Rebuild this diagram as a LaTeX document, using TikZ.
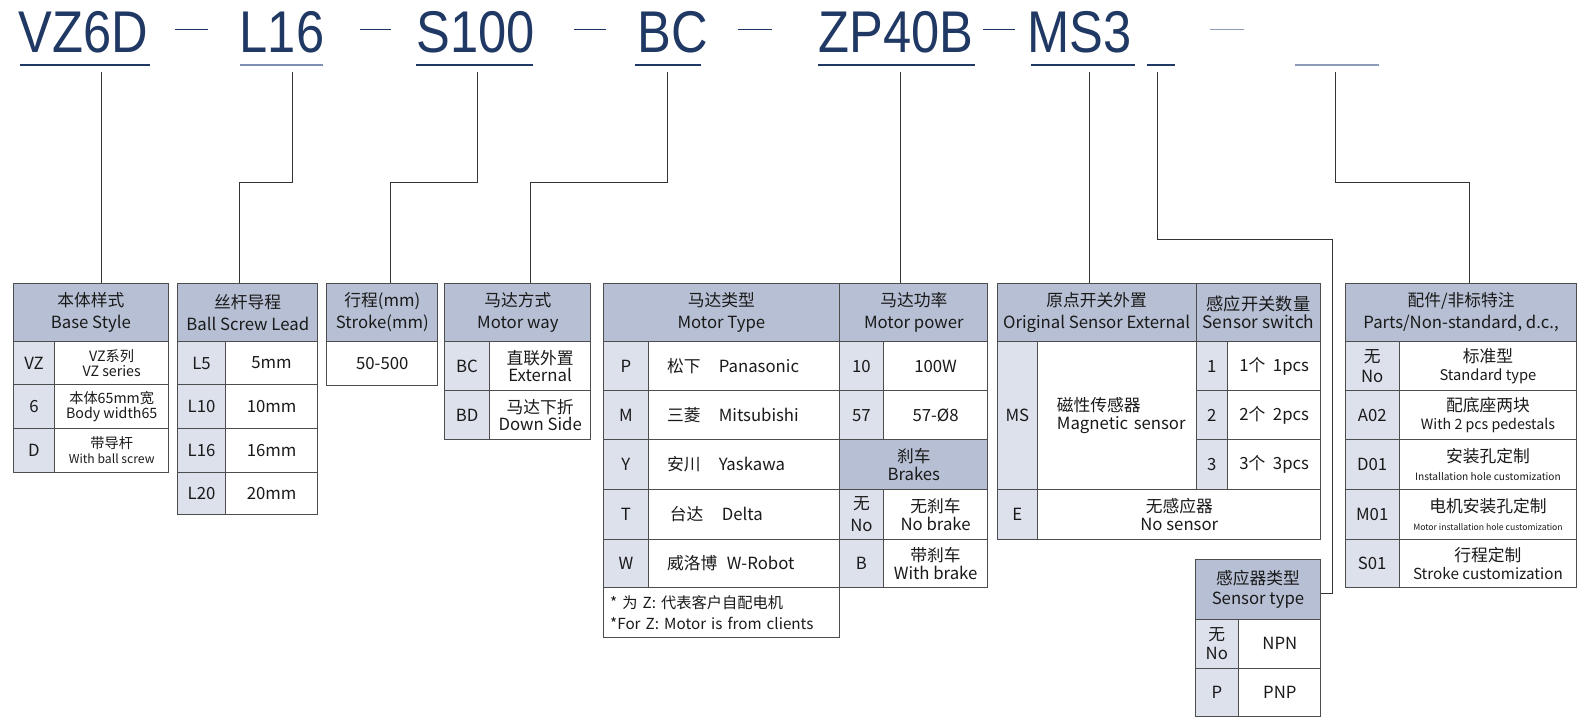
\documentclass[tikz,border=0pt]{standalone}
\usepackage{graphicx}
\usepackage{fontspec}
\setmainfont{Noto Sans CJK SC}
\newfontfamily\ttlfont{Liberation Sans}
\definecolor{navy}{HTML}{1F3864}
\definecolor{navyl}{HTML}{7D8FB3}
\definecolor{greyblue}{HTML}{8D9BB6}
\definecolor{hdfill}{HTML}{B6BFD3}
\definecolor{kyfill}{HTML}{DDE1EC}
\definecolor{cellline}{HTML}{4D4D4D}
\definecolor{txt}{HTML}{1A1A1A}
\tikzset{
 cell/.style={draw=cellline, line width=0.9pt, anchor=north west, inner sep=0pt, outer sep=0pt, align=center, text=txt, font=\fontsize{16.5}{18}\selectfont},
 hd/.style={cell, fill=hdfill, font=\fontsize{16.5}{21.5}\selectfont},
 ky/.style={cell, fill=kyfill},
 vl/.style={cell, fill=white},
 sz/.style 2 args={minimum width=#1pt, minimum height=#2pt},
 sm/.style={font=\fontsize{14}{15}\selectfont},
 ttl/.style={anchor=base west, inner sep=0pt, text=navy, font=\ttlfont\fontsize{58}{58}\selectfont},
 dsh/.style={draw=navy, line width=1.2pt},
 uln/.style={draw=navy, line width=2pt},
 con/.style={draw=black!80, line width=0.8pt},
}
\begin{document}
\begin{tikzpicture}[x=1pt,y=1pt]
 \fill[white] (0,0) rectangle (1568,-716);
 \useasboundingbox (0,0) rectangle (1568,-716);
 \node[ttl] (t1) at (18,-52) {\scalebox{0.86}[1]{VZ6D}};
 \node[ttl] (t2) at (236,-52) {\scalebox{0.86}[1]{L16}};
 \node[ttl] (t3) at (410,-52) {\scalebox{0.86}[1]{S100}};
 \node[ttl] (t4) at (628,-52) {\scalebox{0.86}[1]{BC}};
 \node[ttl] (t5) at (806,-52) {\scalebox{0.86}[1]{ZP40B}};
 \node[ttl] (t6) at (1012,-52) {\scalebox{0.86}[1]{MS3}};
 \draw[dsh] (172,-29) -- (205,-29);
 \draw[dsh] (355,-29) -- (385,-29);
 \draw[dsh] (565,-29) -- (597,-29);
 \draw[dsh] (727,-29) -- (760,-29);
 \draw[dsh] (968,-29) -- (1000,-29);
 \draw[dsh, draw=greyblue] (1192,-29) -- (1225,-29);
 \draw[uln] (20,-64) -- (148,-64);
 \draw[uln, draw=navyl] (236,-64) -- (318,-64);
 \draw[uln] (410,-64) -- (525,-64);
 \draw[uln] (625,-64) -- (690,-64);
 \draw[uln] (806,-64) -- (960,-64);
 \draw[uln, line width=2.8pt] (1015,-64) -- (1118,-64);
 \draw[uln] (1130,-64) -- (1157,-64);
 \draw[uln, draw=greyblue] (1275,-64) -- (1358,-64);

 \node[hd, sz={153}{57}] (bsH) at (13,-279) {本体样式\\Base Style};
 \node[ky, sz={41}{43}] (bsK1) at (13,-336) {VZ};
 \node[vl, sz={112}{43}, sm] (bsV1) at (54,-336) {VZ系列\\VZ series};
 \node[ky, sz={41}{43}] (bsK2) at (13,-379) {6};
 \node[vl, sz={112}{43}, sm] (bsV2) at (54,-379) {本体65mm宽\\Body width65};
 \node[ky, sz={41}{43}] (bsK3) at (13,-422) {D};
 \node[vl, sz={112}{43}, sm] (bsV3) at (54,-422) {带导杆\\{\fontsize{12}{13}\selectfont With ball screw}};

 \node[hd, sz={138}{57}] (blH) at (175,-279) {丝杆导程\\Ball Screw Lead};
 \node[ky, sz={47}{43}] (blK1) at (175,-336) {L5};
 \node[vl, sz={91}{43}] (blV1) at (222,-336) {5mm};
 \node[ky, sz={47}{43}] (blK2) at (175,-379) {L10};
 \node[vl, sz={91}{43}] (blV2) at (222,-379) {10mm};
 \node[ky, sz={47}{43}] (blK3) at (175,-422) {L16};
 \node[vl, sz={91}{43}] (blV3) at (222,-422) {16mm};
 \node[ky, sz={47}{42}] (blK4) at (175,-465) {L20};
 \node[vl, sz={91}{42}] (blV4) at (222,-465) {20mm};

 \node[hd, sz={109}{57}] (stH) at (322,-279) {行程(mm)\\Stroke(mm)};
 \node[vl, sz={109}{44}] (stV) at (322,-336) {50-500};

 \node[hd, sz={144}{57}] (mwH) at (438,-279) {马达方式\\Motor way};
 \node[ky, sz={44}{49}] (mwK1) at (438,-336) {BC};
 \node[vl, sz={100}{49}, font=\fontsize{16.5}{17}\selectfont] (mwV1) at (482,-336) {直联外置\\External};
 \node[ky, sz={44}{48}] (mwK2) at (438,-385) {BD};
 \node[vl, sz={100}{48}, font=\fontsize{16.5}{17}\selectfont] (mwV2) at (482,-385) {马达下折\\Down Side};

 \node[hd, sz={233}{57}] (mtH) at (594,-279) {马达类型\\Motor Type};
 \node[ky, sz={45}{49}] (mtK1) at (594,-336) {P};
 \node[vl, sz={188}{49}, text width=152pt, align=left] (mtV1) at (639,-336) {\makebox[51pt][l]{松下}Panasonic};
 \node[ky, sz={45}{48}] (mtK2) at (594,-385) {M};
 \node[vl, sz={188}{48}, text width=152pt, align=left] (mtV2) at (639,-385) {\makebox[51pt][l]{三菱}Mitsubishi};
 \node[ky, sz={45}{49}] (mtK3) at (594,-433) {Y};
 \node[vl, sz={188}{49}, text width=152pt, align=left] (mtV3) at (639,-433) {\makebox[51pt][l]{安川}Yaskawa};
 \node[ky, sz={45}{49}] (mtK4) at (594,-482) {T};
 \node[vl, sz={188}{49}, text width=152pt, align=left] (mtV4) at (639,-482) {\makebox[54pt][l]{\,台达}Delta};
 \node[ky, sz={45}{48}] (mtK5) at (594,-531) {W};
 \node[vl, sz={188}{48}, text width=152pt, align=left] (mtV5) at (639,-531) {\makebox[59pt][l]{威洛博}W-Robot};
 \node[vl, sz={233}{49}, text width=219pt, align=left, font=\fontsize{15}{21}\selectfont] (mtN) at (594,-579) {* 为 Z: 代表客户自配电机\\{*}For Z: Motor is from clients};

 \node[hd, sz={146}{57}] (mpH) at (827,-279) {马达功率\\Motor power};
 \node[ky, sz={43}{49}] (mpK1) at (827,-336) {10};
 \node[vl, sz={103}{49}] (mpV1) at (870,-336) {100W};
 \node[ky, sz={43}{48}] (mpK2) at (827,-385) {57};
 \node[vl, sz={103}{48}] (mpV2) at (870,-385) {57-Ø8};
 \node[hd, sz={146}{49}, font=\fontsize{16.5}{17}\selectfont] (bkH) at (827,-433) {刹车\\Brakes};
 \node[ky, sz={43}{49}, font=\fontsize{16.5}{21}\selectfont] (bkK1) at (827,-482) {无\\No};
 \node[vl, sz={103}{49}] (bkV1) at (870,-482) {无刹车\\No brake};
 \node[ky, sz={43}{48}] (bkK2) at (827,-531) {B};
 \node[vl, sz={103}{48}] (bkV2) at (870,-531) {带刹车\\With brake};

 \node[hd, sz={196}{57}] (osH) at (982,-279) {原点开关外置\\Original Sensor External};
 \node[hd, sz={123}{57}, font=\fontsize{17}{18}\selectfont] (ssH) at (1178,-279) {感应开关数量\\Sensor switch};
 \node[ky, sz={40}{146}] (osK1) at (982,-336) {MS};
 \node[vl, sz={156}{146}, text width=118pt, align=left] (osV1) at (1022,-336) {\mbox{磁性传感器}\\\mbox{Magnetic sensor}};
 \node[ky, sz={31}{49}] (ssK1) at (1178,-336) {1};
 \node[vl, sz={92}{49}] (ssV1) at (1209,-336) {1个\ \ 1pcs};
 \node[ky, sz={31}{48}] (ssK2) at (1178,-385) {2};
 \node[vl, sz={92}{48}] (ssV2) at (1209,-385) {2个\ \ 2pcs};
 \node[ky, sz={31}{49}] (ssK3) at (1178,-433) {3};
 \node[vl, sz={92}{49}] (ssV3) at (1209,-433) {3个\ \ 3pcs};
 \node[ky, sz={40}{49}] (osK2) at (982,-482) {E};
 \node[vl, sz={279}{49}] (osV2) at (1022,-482) {无感应器\\No sensor};

 \node[hd, sz={124}{59}, font=\fontsize{16.5}{19}\selectfont] (snH) at (1177,-551) {感应器类型\\Sensor type};
 \node[ky, sz={43}{48}] (snK1) at (1177,-610) {无\\No};
 \node[vl, sz={81}{48}] (snV1) at (1220,-610) {NPN};
 \node[ky, sz={43}{48}] (snK2) at (1177,-658) {P};
 \node[vl, sz={81}{48}] (snV2) at (1220,-658) {PNP};

 \node[hd, sz={228}{57}] (ptH) at (1325,-279) {配件/非标特注\\Parts/Non-standard, d.c.,};
 \node[ky, sz={53}{49}, font=\fontsize{16.5}{20}\selectfont] (ptK1) at (1325,-336) {无\\No};
 \node[vl, sz={175}{49}] (ptV1) at (1378,-336) {标准型\\{\fontsize{14.5}{15}\selectfont Standard type}};
 \node[ky, sz={53}{48}] (ptK2) at (1325,-385) {A02};
 \node[vl, sz={175}{48}] (ptV2) at (1378,-385) {配底座两块\\{\fontsize{14}{15}\selectfont With 2 pcs pedestals}};
 \node[ky, sz={53}{49}] (ptK3) at (1325,-433) {D01};
 \node[vl, sz={175}{49}] (ptV3) at (1378,-433) {安装孔定制\\{\fontsize{10}{12}\selectfont Installation hole customization}};
 \node[ky, sz={53}{49}] (ptK4) at (1325,-482) {M01};
 \node[vl, sz={175}{49}] (ptV4) at (1378,-482) {电机安装孔定制\\{\fontsize{8.5}{12}\selectfont Motor installation hole customization}};
 \node[ky, sz={53}{48}] (ptK5) at (1325,-531) {S01};
 \node[vl, sz={175}{48}] (ptV5) at (1378,-531) {行程定制\\{\fontsize{15}{15}\selectfont Stroke customization}};

 \coordinate (c1) at (100,-71);
 \coordinate (c2) at (288,-71);
 \coordinate (c3) at (470,-71);
 \coordinate (c4) at (657,-71);
 \coordinate (c5) at (887,-71);
 \coordinate (c6) at (1073,-71);
 \coordinate (c7) at (1140,-71);
 \coordinate (c8) at (1315,-71);
 \draw[con] (c1) -- (c1 |- bsH.north);
 \draw[con] (c2) -- ++(0,-109) -| ([xshift=-8pt]blH.north);
 \draw[con] (c3) -- ++(0,-109) -| ([xshift=8.5pt]stH.north);
 \draw[con] (c4) -- ++(0,-109) -| ([xshift=12pt]mwH.north);
 \draw[con] (c5) -- (c5 |- mpH.north);
 \draw[con] (c6) -- (c6 |- osH.north);
 \draw[con] (c7) -- ++(0,-165) -- ++(172,0) |- ([yshift=-4pt]snH.east);
 \draw[con] (c8) -- ++(0,-109) -| ([xshift=8pt]ptH.north);
\end{tikzpicture}
\end{document}
